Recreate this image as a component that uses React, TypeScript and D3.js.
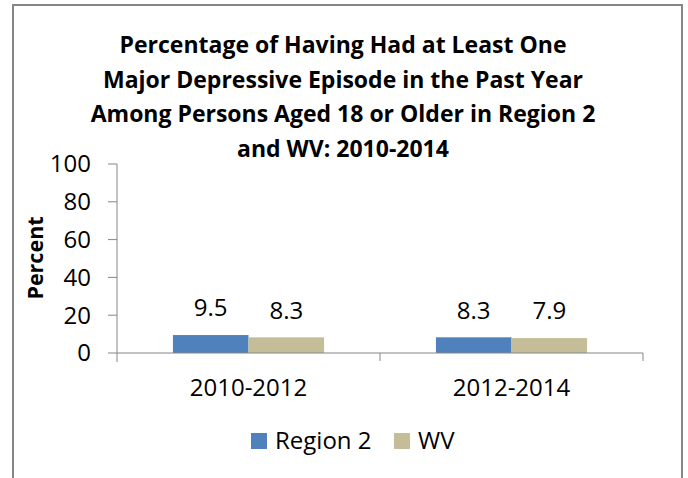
import { scaleBand, scaleLinear } from 'd3';
import React from 'react';

const width = 688;
const height = 478;

const titleLines = [
	'Percentage of Having Had at Least One',
	'Major Depressive Episode in the Past Year',
	'Among Persons Aged 18 or Older in Region 2',
	'and WV: 2010-2014',
];
const categories = ['2010-2012', '2012-2014'];
const seriesNames = ['Region 2', 'WV'];
const region2Values = [9.5, 8.3];
const wvValues = [8.3, 7.9];
const yTicks = [0, 20, 40, 60, 80, 100];
const colors = ['#4F81BD', '#C4BD97'];

const font = "'Open Sans', sans-serif";
const axisColor = '#868686';
const labelSize = 24;

const App = () => {
	const xScale = scaleBand<string>().domain(categories).range([117, 643]);
	const seriesScale = scaleBand<string>()
		.domain(seriesNames)
		.range([0, xScale.bandwidth()])
		.paddingInner(0)
		.paddingOuter(0.74);
	const yScale = scaleLinear().domain([0, 100]).range([353, 164]);
	const values = [region2Values, wvValues];

	return (
		<svg
			width={width}
			height={height}
			style={{ position: 'absolute', left: 0, top: 0, background: '#fff' }}
		>
			{/* frame */}
			<path d={`M13,478 V5 H682 V478`} fill="none" stroke={axisColor} strokeWidth={2} />

			{titleLines.map((t, i) => (
				<text
					key={t}
					x={343}
					y={45 + i * 34.5}
					dy=".35em"
					textAnchor="middle"
					fontFamily={font}
					fontWeight="bold"
					fontSize={23}
					fill="#000"
				>
					{t}
				</text>
			))}

			{/* y axis */}
			<line x1={117} x2={117} y1={yScale(100)} y2={362} stroke={axisColor} />
			{yTicks.map(t => (
				<g key={t} transform={`translate(0,${yScale(t)})`}>
					<line x1={108} x2={117} stroke={axisColor} />
					<text x={91} dy=".35em" textAnchor="end" fontFamily={font} fontSize={labelSize} fill="#000">
						{t}
					</text>
				</g>
			))}
			<text
				transform={`translate(35,258) rotate(-90)`}
				dy=".35em"
				textAnchor="middle"
				fontFamily={font}
				fontWeight="bold"
				fontSize={21.5}
				fill="#000"
			>
				Percent
			</text>

			{/* bars */}
			{categories.map((c, ci) => (
				<g key={c} transform={`translate(${xScale(c)},0)`}>
					{seriesNames.map((s, si) => {
						const v = values[si][ci];
						const x0 = seriesScale(s) || 0;
						return (
							<g key={s}>
								<rect
									x={x0}
									y={yScale(v)}
									width={seriesScale.bandwidth()}
									height={yScale(0) - yScale(v)}
									fill={colors[si]}
								/>
								<text
									x={x0 + seriesScale.bandwidth() / 2}
									y={yScale(v) - 27}
									dy=".35em"
									textAnchor="middle"
									fontFamily={font}
									fontSize={labelSize}
									fill="#000"
								>
									{v.toFixed(1)}
								</text>
							</g>
						);
					})}
					<text
						x={xScale.bandwidth() / 2}
						y={388}
						dy=".35em"
						textAnchor="middle"
						fontFamily={font}
						fontSize={labelSize}
						fill="#000"
					>
						{c}
					</text>
				</g>
			))}

			{/* x axis */}
			<line x1={117} x2={643} y1={353} y2={353} stroke={axisColor} />
			{categories.map(c => (
				<line
					key={c}
					x1={(xScale(c) || 0) + xScale.bandwidth()}
					x2={(xScale(c) || 0) + xScale.bandwidth()}
					y1={353}
					y2={361}
					stroke={axisColor}
				/>
			))}

			{/* legend */}
			{seriesNames.map((s, i) => {
				const lx = i === 0 ? 251 : 394;
				return (
					<g key={s} transform={`translate(${lx},433)`}>
						<rect width={16} height={16} fill={colors[i]} />
						<text x={24} y={8} dy=".35em" fontFamily={font} fontSize={labelSize} fill="#000">
							{s}
						</text>
					</g>
				);
			})}
		</svg>
	);
};

export default App;
